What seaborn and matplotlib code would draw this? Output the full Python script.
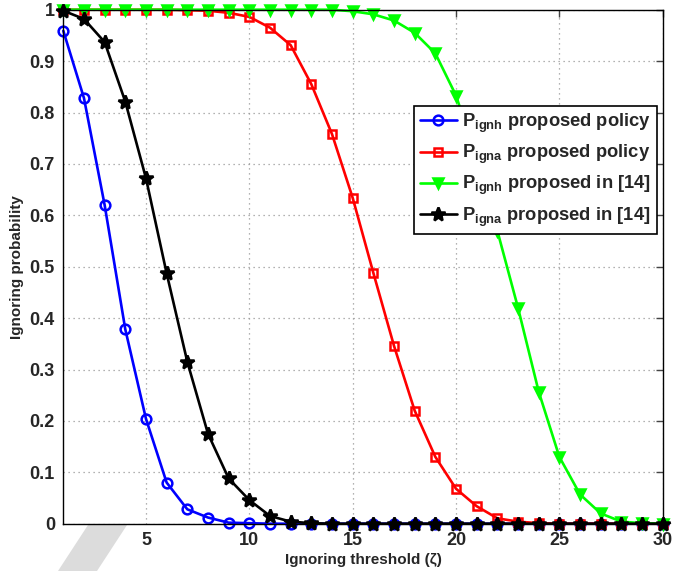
import numpy as np
import pandas as pd
import matplotlib
matplotlib.use("Agg")
import matplotlib.pyplot as plt
from matplotlib.patches import Polygon
import seaborn as sns

# Ignoring threshold values
zeta = list(range(1, 31))

# P_ignh, proposed policy
p_ignh_prop = [0.959, 0.828, 0.620, 0.378, 0.204, 0.080, 0.028, 0.012, 0.002, 0.001,
               0, 0, 0, 0, 0, 0, 0, 0, 0, 0, 0, 0, 0, 0, 0, 0, 0, 0, 0, 0]
# P_igna, proposed policy
p_igna_prop = [1.0, 1.0, 1.0, 1.0, 1.0, 1.0, 0.999, 0.998, 0.994, 0.986,
               0.965, 0.931, 0.855, 0.758, 0.634, 0.488, 0.346, 0.220, 0.130, 0.068,
               0.034, 0.0105, 0.004, 0.001, 0, 0, 0, 0, 0, 0]
# P_ignh, scheme of [14]
p_ignh_ref = [1.0, 1.0, 1.0, 1.0, 1.0, 1.0, 1.0, 1.0, 1.0, 1.0,
              1.0, 1.0, 1.0, 1.0, 0.997, 0.991, 0.979, 0.955, 0.915, 0.833,
              0.71, 0.57, 0.42, 0.257, 0.130, 0.057, 0.020, 0.004, 0.001, 0]
# P_igna, scheme of [14]
p_igna_ref = [0.998, 0.982, 0.937, 0.821, 0.672, 0.487, 0.315, 0.175, 0.088, 0.046,
              0.015, 0.004, 0.001, 0, 0, 0, 0, 0, 0, 0, 0, 0, 0, 0, 0, 0, 0, 0, 0, 0]

labels = [r"$\mathbf{P}_{\mathbf{ignh}}$ proposed policy",
          r"$\mathbf{P}_{\mathbf{igna}}$ proposed policy",
          r"$\mathbf{P}_{\mathbf{ignh}}$ proposed in [14]",
          r"$\mathbf{P}_{\mathbf{igna}}$ proposed in [14]"]
x_ticks = [5, 10, 15, 20, 25, 30]
y_ticks = [0, 0.1, 0.2, 0.3, 0.4, 0.5, 0.6, 0.7, 0.8, 0.9, 1]
y_ticklabels = ["0", "0.1", "0.2", "0.3", "0.4", "0.5", "0.6", "0.7", "0.8", "0.9", "1"]

sns.set_theme(style="white")
plt.rcParams["font.family"] = ["Liberation Sans", "DejaVu Sans"]
plt.rcParams["font.weight"] = "bold"
plt.rcParams["mathtext.fontset"] = "custom"
plt.rcParams["mathtext.rm"] = "Liberation Sans"
plt.rcParams["mathtext.bf"] = "Liberation Sans:bold"
plt.rcParams["mathtext.it"] = "Liberation Sans:italic"

fig = plt.figure(figsize=(6.92, 5.71), dpi=100)
fig.patch.set_facecolor("white")

# light diagonal band behind the axes
band = Polygon([(88 / 692, 1 - 525 / 571), (127 / 692, 1 - 525 / 571),
                (97 / 692, 0.0), (58 / 692, 0.0)],
               closed=True, transform=fig.transFigure, facecolor="#dcdcdc",
               edgecolor="none", zorder=0)
fig.patches.append(band)

ax = fig.add_axes([63.3 / 692, 1 - 523.7 / 571, 599.4 / 692, 514 / 571])
ax.set_facecolor("white")
ax.set_zorder(1)

series = [
    (p_ignh_prop, "#0000ff", "o", 7, "none"),
    (p_igna_prop, "#ff0000", "s", 6, "none"),
    (p_ignh_ref, "#00ff00", "v", 7, "#00ff00"),
    (p_igna_ref, "#000000", "*", 10.5, "#000000"),
]

for (vals, col, mk, ms, mfc), lab in zip(series, labels):
    df = pd.DataFrame({"zeta": zeta, "p": vals})
    sns.lineplot(data=df, x="zeta", y="p", ax=ax, color=col, lw=1.9,
                 marker=mk, ms=ms, mfc=mfc, mec=col, mew=1.8, label=lab,
                 clip_on=False)

ax.set_xlim(1, 30)
ax.set_ylim(0, 1)
ax.set_xticks(x_ticks)
ax.set_yticks(y_ticks)
ax.set_yticklabels(y_ticklabels)
ax.tick_params(axis="both", direction="in", length=5, width=1, color="#444444",
               top=True, right=True, labelsize=13, pad=6)
for t in ax.get_xticklabels() + ax.get_yticklabels():
    t.set_fontweight("bold")

ax.grid(True, linestyle=(0, (1, 3)), color="#999999", lw=0.9)
for s in ax.spines.values():
    s.set_visible(True)
    s.set_color("black")
    s.set_linewidth(1.0)

ax.set_xlabel("Ignoring threshold (ζ)", fontsize=11, fontweight="bold", labelpad=2.5)
ax.set_ylabel("Ignoring probability", fontsize=11, fontweight="bold", labelpad=4)

leg = ax.legend(loc="upper right", bbox_to_anchor=(0.990, 0.813), borderaxespad=0,
                frameon=True, fancybox=False, framealpha=1, edgecolor="black",
                prop={"size": 13.2, "weight": "bold"}, handlelength=2.0,
                handletextpad=0.3, labelspacing=0.45, borderpad=0.3)
leg.get_frame().set_linewidth(1.2)
leg.set_zorder(5)

fig.savefig("out.png", dpi=100, facecolor="white")
